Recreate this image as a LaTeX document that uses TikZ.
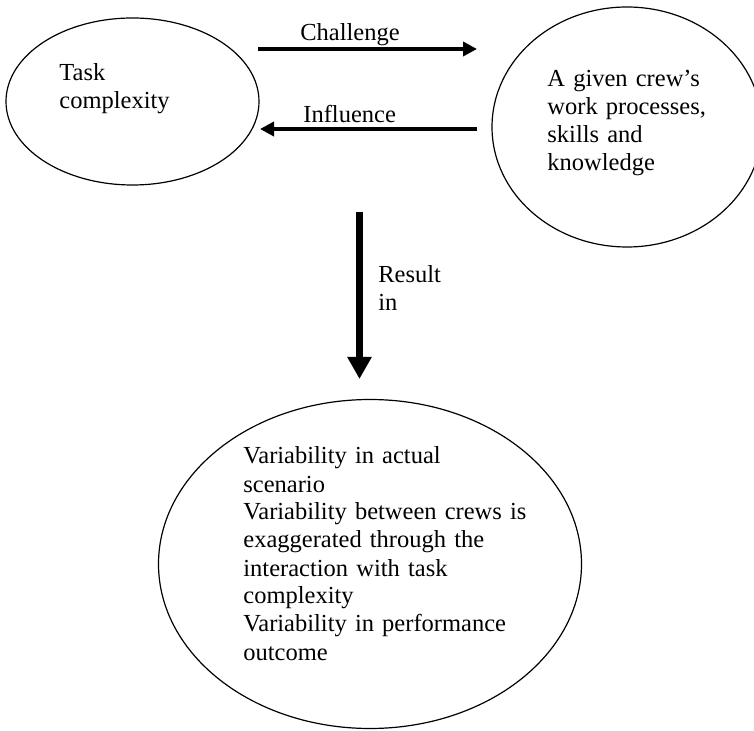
\documentclass[tikz,border=0pt]{standalone}
\usepackage{fontspec}
\setmainfont{Liberation Serif}
\usetikzlibrary{arrows.meta,shapes.geometric}
\begin{document}
\begin{tikzpicture}[x=0.5pt,y=-0.5pt,
  bubble/.style={draw, ellipse, line width=0.6pt, inner sep=0pt},
  txt/.style={anchor=base west, inner sep=0pt, align=left, text width=#1,
    font=\fontsize{12.25}{14}\selectfont},
  txt/.default=150pt,
  harrow/.style={line width=1.75pt, -{Triangle[length=7pt,width=7pt]}},
  varrow/.style={line width=3.5pt, -{Triangle[length=11pt,width=11.5pt]}}]
\useasboundingbox (0,0) rectangle (754,731);
\clip (0,0) rectangle (754,731);
% ellipses
\node[bubble, minimum width=126.5pt, minimum height=83.5pt] (task) at (132.5,101.5) {};
\node[bubble, minimum width=135pt, minimum height=120pt] (crew) at (627,127) {};
\node[bubble, minimum width=211.5pt, minimum height=164.5pt] (var) at (370,564) {};
% texts inside ellipses
\node[txt=100pt] (tasktxt) at (59,81) {Task\\complexity};
\node[txt=100pt] (crewtxt) at (547,87) {A given crew’s\\work processes,\\skills and\\knowledge};
\node[txt=170pt] (vartxt) at (243,464) {Variability in actual\\scenario\\Variability between crews is\\exaggerated through the\\interaction with task\\complexity\\Variability in performance\\outcome};
% arrow end points
\coordinate (chs) at (258,49);
\coordinate (che) at (477,49);
\coordinate (ins) at (477,129);
\coordinate (ine) at (260,129);
\coordinate (res) at (359.5,212);
\coordinate (ree) at (359.5,379);
% arrows
\draw[harrow] (chs) -- (che);
\draw[harrow] (ins) -- (ine);
\draw[varrow] (res) -- (ree);
% arrow labels
\node[txt=80pt] (chl) at (300,41) {Challenge};
\node[txt=80pt] (inl) at (303,123) {Influence};
\node[txt=60pt] (rel) at (378,283) {Result\\in};
\end{tikzpicture}
\end{document}
